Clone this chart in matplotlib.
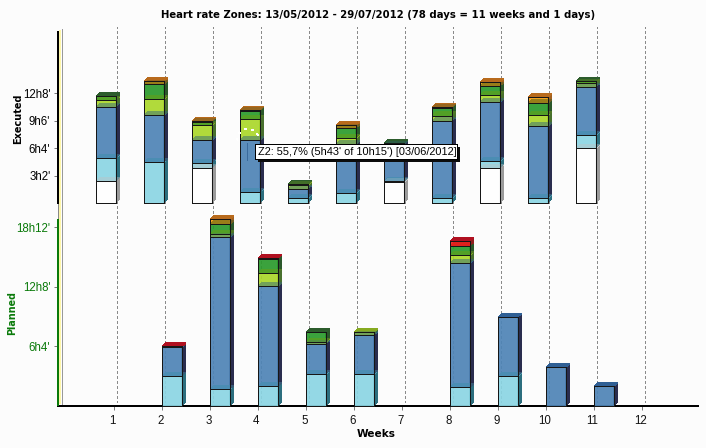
import matplotlib
matplotlib.use("Agg")
from matplotlib import pyplot as plt
from matplotlib.patches import Polygon, Rectangle, Arc
from matplotlib.transforms import Affine2D

# reference is a non antialiased java chart
plt.rcParams["patch.antialiased"] = False
plt.rcParams["lines.antialiased"] = False

# minutes per zone, one value per week
weeks = [1, 2, 3, 4, 5, 6, 7, 8, 9, 10, 11]
exec_rest = [146, 0, 234, 0, 0, 0, 139, 0, 232, 0, 364]
exec_z1 = [152, 271, 31, 73, 33, 66, 7, 33, 46, 33, 86]
exec_z2 = [338, 311, 152, 343, 60, 324, 240, 510, 390, 476, 318]
exec_z3 = [46, 106, 99, 141, 26, 40, 0, 38, 46, 73, 29]
exec_z4 = [26, 99, 20, 53, 7, 66, 15, 49, 60, 79, 13]
exec_z5 = [0, 20, 7, 7, 0, 20, 0, 7, 26, 40, 0]
exec_z6 = [0, 0, 0, 0, 0, 0, 0, 0, 0, 0, 0]

plan_rest = [0, 0, 0, 0, 0, 0, 0, 0, 0, 0, 0]
plan_z1 = [0, 182, 100, 118, 192, 192, 0, 112, 180, 0, 0]
plan_z2 = [0, 175, 930, 612, 184, 239, 0, 759, 361, 235, 118]
plan_z3 = [0, 0, 18, 82, 12, 18, 0, 49, 0, 0, 0]
plan_z4 = [0, 0, 61, 84, 61, 0, 0, 55, 0, 0, 0]
plan_z5 = [0, 0, 31, 0, 0, 0, 0, 0, 0, 0, 0]
plan_z6 = [0, 6, 0, 6, 0, 0, 0, 31, 0, 0, 0]

week_ticks = [1, 2, 3, 4, 5, 6, 7, 8, 9, 10, 11, 12]
exec_ticks = [182, 364, 546, 728]
exec_labels = ["3h2'", "6h4'", "9h6'", "12h8'"]
plan_ticks = [364, 728, 1092]
plan_labels = ["6h4'", "12h8'", "18h12'"]

title = "Heart rate Zones: 13/05/2012 - 29/07/2012 (78 days = 11 weeks and 1 days)"
tooltip = "Z2: 55,7% (5h43' of 10h15') [03/06/2012]"

fronts = ["#ffffff", "#8bd5e3", "#4e84b6", "#abd72a", "#2a9a2c", "#f49a0c", "#f01c1c"]
sides = ["#9a9a9a", "#2c6e7e", "#2a2d4e", "#48702e", "#2b582b", "#a06020", "#902020"]
tops = ["#c8c8c8", "#4a9ab0", "#2f5f94", "#86aa20", "#2c5c2c", "#b86a1c", "#b01020"]

W, H = 706, 448
BG = "#fcfcfc"
LEFT, RIGHT = 58, 698
WEEK_PX = 48.0
X0 = 1 + (LEFT - 114.3) / WEEK_PX
X1 = 1 + (RIGHT - 114.3) / WEEK_PX
DX = 3.7 / WEEK_PX
BAR_W = 19.4 / WEEK_PX

tick_font = {"family": "Liberation Sans", "size": 8.3}
bold_font = {"family": "DejaVu Sans", "weight": "bold"}


def make_axes(fig, top_px, bottom_px):
    ax = fig.add_axes([LEFT / W, 1 - bottom_px / H, (RIGHT - LEFT) / W, (bottom_px - top_px) / H])
    ax.patch.set_alpha(0)
    ax.set_xlim(X0, X1)
    for s in ax.spines.values():
        s.set_visible(False)
    return ax


def draw_stack(ax, lefts, zones, dy):
    bottoms = [0] * len(lefts)
    for z, vals in enumerate(zones):
        for i, v in enumerate(vals):
            if v <= 0:
                continue
            x, y = lefts[i], bottoms[i]
            side = Polygon([(x + BAR_W, y), (x + BAR_W + DX, y + dy), (x + BAR_W + DX, y + v + dy), (x + BAR_W, y + v)],
                           fc=sides[z], ec="none", zorder=3 + z * 0.1, clip_on=False)
            ax.add_patch(side)
            top_pts = [(x, y + v), (x + DX, y + v + dy), (x + BAR_W + DX, y + v + dy), (x + BAR_W, y + v)]
            ax.add_patch(Polygon(top_pts, fc=tops[z], ec="none", zorder=3.01 + z * 0.1, clip_on=False))
            ax.bar(x, v, BAR_W, bottom=y, align="edge", color=fronts[z], alpha=0.92, ec="none",
                   zorder=3.02 + z * 0.1, clip_on=False)
            ax.bar(x, v, BAR_W, bottom=y, align="edge", color="none", ec="#161616", lw=0.7,
                   zorder=3.7, clip_on=False)
            # lid of this block shows through the block above it
            ax.add_patch(Polygon(top_pts, fc=tops[z], ec="none", alpha=0.4, zorder=3.6, clip_on=False))
            bottoms[i] = y + v


fig = plt.figure(figsize=(W / 100, H / 100), dpi=100, facecolor=BG)

# dashed week lines sit under both charts
ax_bg = make_axes(fig, 27, 403)
ax_bg.axis("off")
for w in week_ticks:
    ax_bg.axvline(w + 3 / WEEK_PX, color="#8a8a8a", lw=0.7, ls=(0, (3, 2.5)), zorder=1)

ax_exec = make_axes(fig, 28, 203.3)
ax_exec.set_ylim(0, 175.3 / 27.5 * 182)
ax_plan = make_axes(fig, 209, 405.7)
ax_plan.set_ylim(0, 196.7 / 59.5 * 364)

draw_stack(ax_exec, [w - 18 / WEEK_PX for w in weeks],
           [exec_rest, exec_z1, exec_z2, exec_z3, exec_z4, exec_z5, exec_z6], 24)
draw_stack(ax_plan, list(weeks),
           [plan_rest, plan_z1, plan_z2, plan_z3, plan_z4, plan_z5, plan_z6], 22)

ax_exec.set_xticks([])
ax_exec.set_yticks(exec_ticks, exec_labels, color="black", **tick_font)
ax_exec.tick_params(axis="y", length=3, width=0.7, color="#777777", pad=2.5)
ax_plan.set_yticks(plan_ticks, plan_labels, color="#0a7a0a", **tick_font)
ax_plan.tick_params(axis="y", length=3, width=0.7, color="#777777", pad=2.5)
ax_plan.set_xticks(week_ticks, [str(w) for w in week_ticks], color="#111111", **tick_font)
ax_plan.tick_params(axis="x", length=3, width=0.7, color="#777777", pad=3.5)
for lab in ax_plan.get_xticklabels():
    lab.set_transform(lab.get_transform() + Affine2D().translate(-2, 0))
ax_plan.spines["bottom"].set_visible(True)
ax_plan.spines["bottom"].set_linewidth(1.4)
ax_plan.spines["bottom"].set_color("black")

# overlay in pixel coordinates for axis strips and the hover tooltip
ov = fig.add_axes([0, 0, 1, 1], zorder=10)
ov.patch.set_alpha(0)
ov.set_xlim(0, W)
ov.set_ylim(H, 0)
ov.axis("off")
ov.add_patch(Rectangle((59, 30), 2.4, 374, fc="#fdf6a8", ec="none"))
ov.plot([61.8, 61.8], [29, 404], color="#999999", lw=0.7)
ov.plot([58, 58], [204, 219], color="#888888", lw=0.7)
ov.plot([58, 58], [31, 204], color="black", lw=1.4, solid_capstyle="butt")
ov.plot([58, 58], [219, 406], color="#0a7a0a", lw=1.4, solid_capstyle="butt")

ov.add_patch(Arc((248, 140), 22, 22, theta1=180, theta2=360, color="white", lw=0.7, ls=(0, (1.5, 6))))
ov.plot([247, 247], [143, 160], color="#3a6a9c", lw=0.7, ls=(0, (4, 1)))
ov.add_patch(Rectangle((258, 147), 202, 15.5, fc="#0c0c0c", ec="none"))
ov.add_patch(Rectangle((255, 144.5), 202, 15, fc="white", ec="black", lw=0.7))
ov.text(258, 152.3, tooltip, ha="left", va="center", color="black", family="Liberation Sans", size=7.9)

fig.text(378 / W, 1 - 15 / H, title, ha="center", va="center", size=7.25, **bold_font)
fig.text(376 / W, 1 - 434 / H, "Weeks", ha="center", va="center", size=7.6, **bold_font)
fig.text(18 / W, 1 - 118.5 / H, "Executed", ha="center", va="center", rotation=90, color="black", size=7, **bold_font)
fig.text(12 / W, 1 - 313 / H, "Planned", ha="center", va="center", rotation=90, color="#0a7a0a", size=6.9, **bold_font)

fig.savefig("out.png", dpi=100, facecolor=BG)
